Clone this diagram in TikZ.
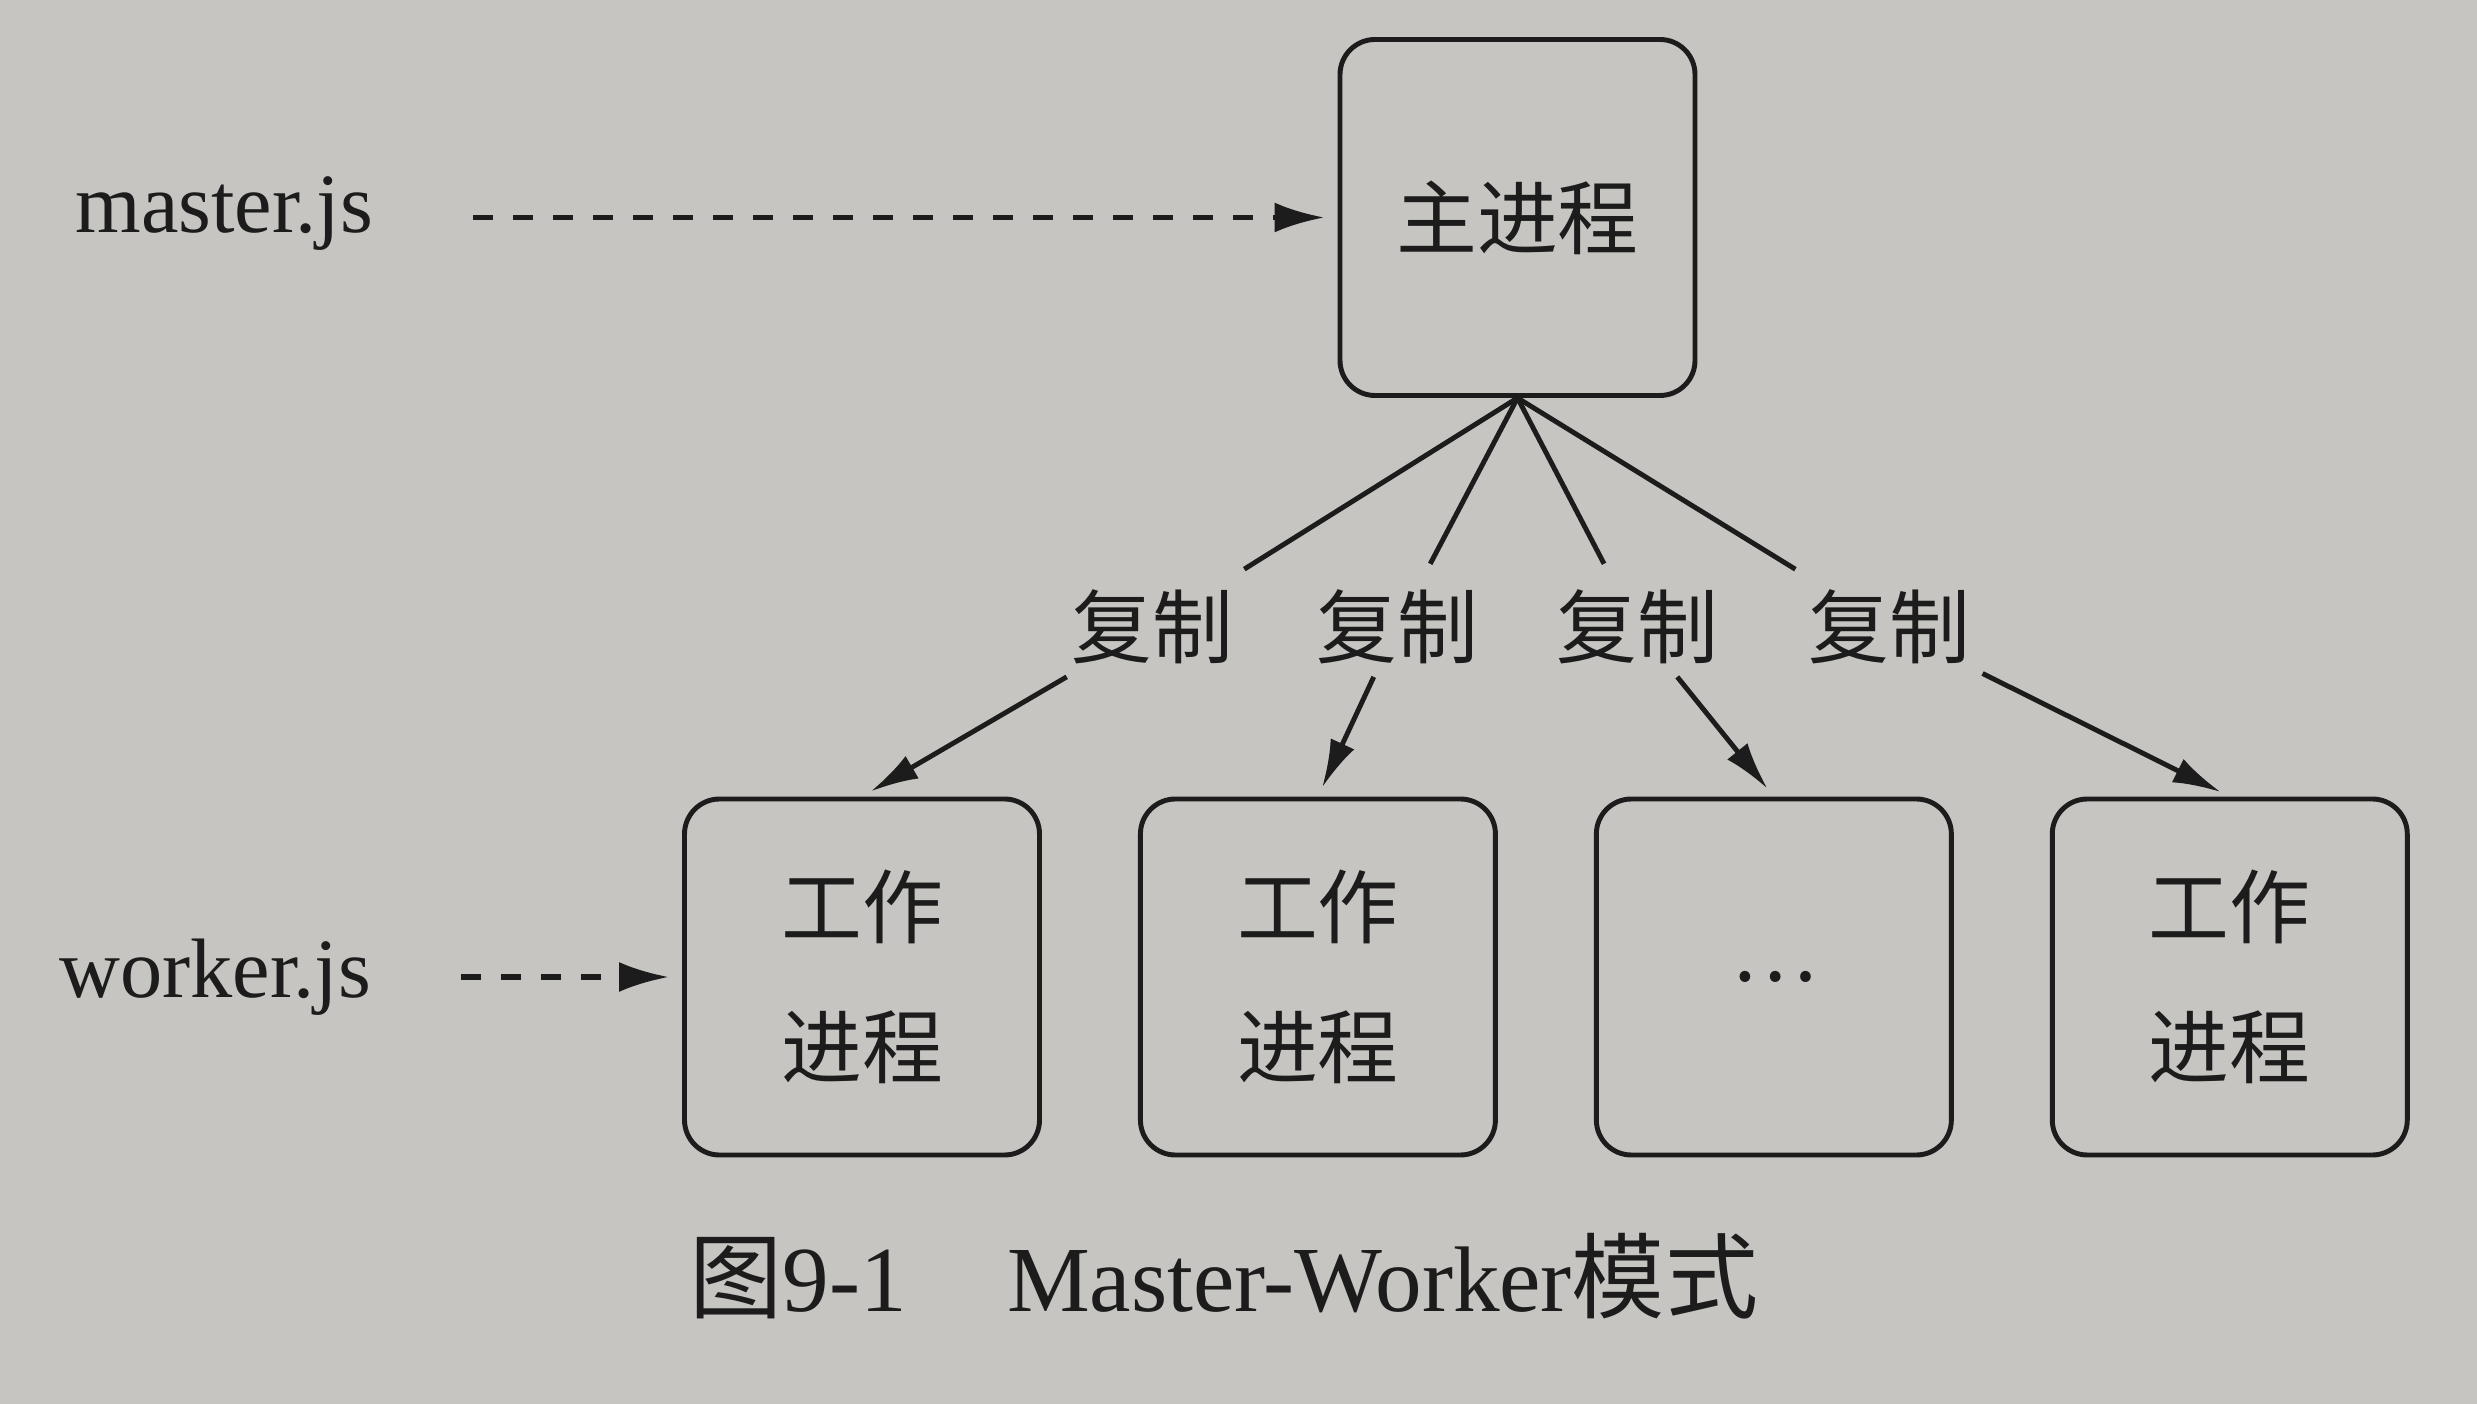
\documentclass[tikz,border=0pt]{standalone}
\usepackage{fontspec}
\setmainfont{Liberation Serif}
\newfontfamily\cjk{Noto Sans CJK SC}
\usetikzlibrary{positioning,arrows.meta}
\definecolor{paper}{RGB}{199,197,193}
\definecolor{ink}{RGB}{28,28,28}

\begin{document}
\begin{tikzpicture}[font={\fontsize{24}{28}\selectfont},text=ink,
  proc/.style={draw=ink,line width=1.4pt,rounded corners=0.35cm,minimum width=3.55cm,
    minimum height=3.56cm,align=center,font={\fontsize{23}{40}\selectfont\cjk}},
  copylab/.style={inner sep=0.12cm,font={\fontsize{23}{28}\selectfont\cjk}},
  feed/.style={draw=ink,line width=1.5pt,dash pattern=on 0.2cm off 0.2cm,
    -{Latex[length=0.5cm,width=0.3cm]}},
  spawn/.style={draw=ink,line width=1.4pt,-{Latex[length=0.48cm,width=0.26cm]}}]
% page
\useasboundingbox (0,0) rectangle (24.77,-14.04);
\fill[paper] (0,0) rectangle (24.77,-14.04);

% master process
\node[proc] (master) at (15.175,-2.175) {主进程};
% worker processes
\node[proc] (w1) at (8.62,-9.77) {工作\\进程};
\node[proc,right=0.96cm of w1] (w2) {工作\\进程};
\node[proc,right=0.96cm of w2] (w3) {\raisebox{-0.08cm}{…}};
\node[proc,right=0.96cm of w3] (w4) {工作\\进程};

% script names
\node[anchor=base west] (mjs) at (0.63,-2.33) {master.js};
\node[anchor=base west] (wjs) at (0.47,-9.97) {worker.js};
\draw[feed,shorten <=0.88cm,shorten >=0.13cm] (master.west -| mjs.east) -- (master.west);
\draw[feed,shorten <=0.78cm,shorten >=0.13cm] (w1.west -| wjs.east) -- (w1.west);

% copy labels and arrows
\foreach \i/\x in {1/11.52,2/13.97,3/16.37,4/18.89}{
  \node[copylab] (lab\i) at (\x,-6.27) {复制};
  \draw[line width=1.4pt,draw=ink,shorten >=0.15cm] (master.south) -- (lab\i);
  \draw[spawn,shorten >=0.1cm] (lab\i) -- (w\i.north);
}

% caption
\node[anchor=base,font={\fontsize{26.5}{30}\selectfont}] (cap) at (12.24,-13.11)
  {{\cjk 图}9-1\hspace{1.0cm}Master-Worker{\cjk 模式}};
\end{tikzpicture}
\end{document}
